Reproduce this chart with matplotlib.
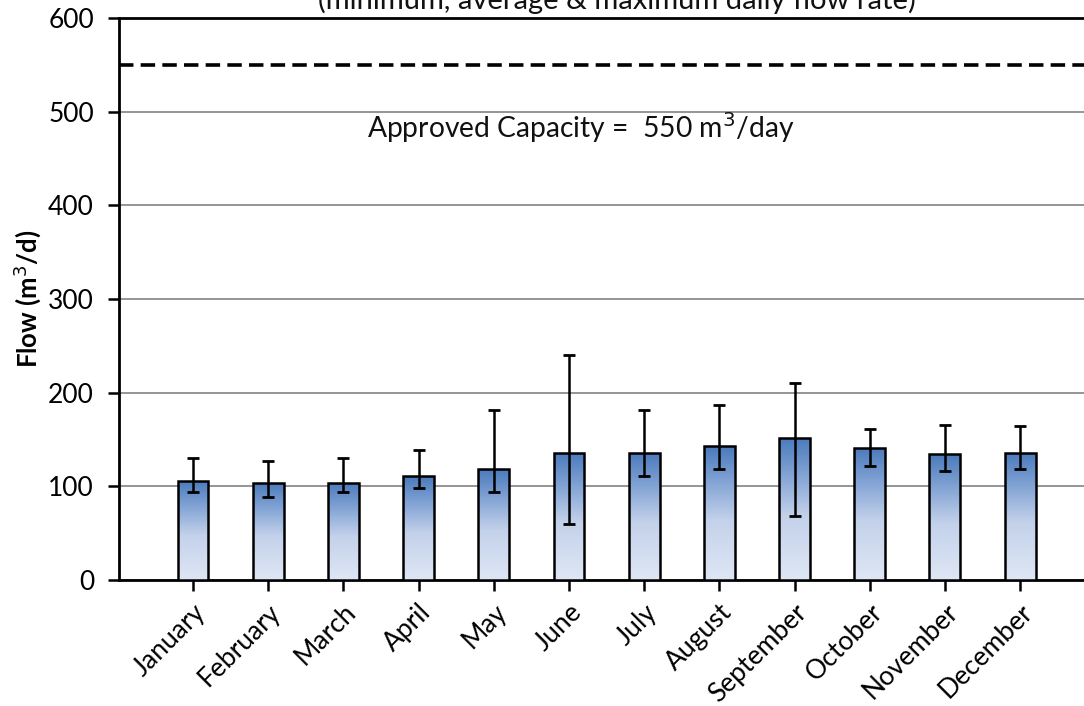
import numpy as np
import matplotlib
matplotlib.use("Agg")
import matplotlib.pyplot as plt
from matplotlib.patches import Rectangle
from matplotlib.colors import LinearSegmentedColormap

plt.rcParams['font.family'] = ['Lato', 'DejaVu Sans']

# Data
months = ['January', 'February', 'March', 'April', 'May', 'June',
          'July', 'August', 'September', 'October', 'November', 'December']
avg_flow = [106, 104, 104, 111, 118, 136, 136, 143, 152, 141, 134, 136]
min_flow = [94, 89, 94, 98, 94, 60, 111, 118, 68, 122, 116, 118]
max_flow = [130, 127, 130, 139, 181, 240, 182, 187, 210, 161, 166, 164]
capacity = 550

W, H = 1084, 706
fig = plt.figure(figsize=(W / 100, H / 100), dpi=100)
ax = fig.add_axes([119 / W, 1 - 580 / H, 1 - 119 / W, (580 - 18) / H])

x = np.arange(len(months))
avg = np.array(avg_flow)
lo = avg - np.array(min_flow)
hi = np.array(max_flow) - avg

# gradient filled bars
cmap = LinearSegmentedColormap.from_list(
    'bar', [(0.0, '#dfe7f5'), (0.45, '#c3d1ea'), (0.72, '#86a6d6'), (1.0, '#4a7abc')])
grad = np.linspace(0, 1, 256).reshape(-1, 1)
bw = 0.41
for xi, v in zip(x, avg):
    im = ax.imshow(grad, cmap=cmap, origin='lower', aspect='auto',
                   extent=(xi - bw / 2, xi + bw / 2, 0, v), zorder=3)
    rect = Rectangle((xi - bw / 2, 0), bw, v, fill=False, ec='black', lw=1.8, zorder=4)
    ax.add_patch(rect)
    im.set_clip_path(rect)

ax.errorbar(x, avg, yerr=[lo, hi], fmt='none', ecolor='black', elinewidth=1.8,
            capsize=4.5, capthick=2, zorder=5)

# approved capacity
ax.axhline(capacity, color='black', lw=2.6, ls=(0, (4, 2)), zorder=4)
ax.text(2.31, 483, 'Approved Capacity =  550 m$^3$/day', fontsize=20.3,
        va='center', ha='left', color='#111111')

ax.set_xlim(-0.984, 11.85)
ax.set_ylim(0, 600)
ax.set_yticks(range(0, 601, 100))
ax.yaxis.grid(True, color='#8c8c8c', lw=1.3, zorder=1)
ax.set_axisbelow(True)
ax.set_xticks(x)
ax.set_xticklabels(months, rotation=45, ha='right', rotation_mode='anchor', fontsize=19)
ax.tick_params(axis='y', labelsize=19, length=8, width=1.8, pad=10, colors='black')
ax.tick_params(axis='x', length=8, width=1.8, pad=6)
for side in ['left', 'bottom', 'top']:
    ax.spines[side].set_linewidth(2)
ax.spines['right'].set_visible(False)
ax.set_ylabel('Flow (m$^3$/d)', fontsize=18.5, fontweight='bold', labelpad=4)

fig.text(0.569, 1 - 9 / H, '(minimum, average & maximum daily flow rate)',
         fontsize=21, ha='center', va='baseline', color='#111111')

fig.savefig('out.png', dpi=100)
